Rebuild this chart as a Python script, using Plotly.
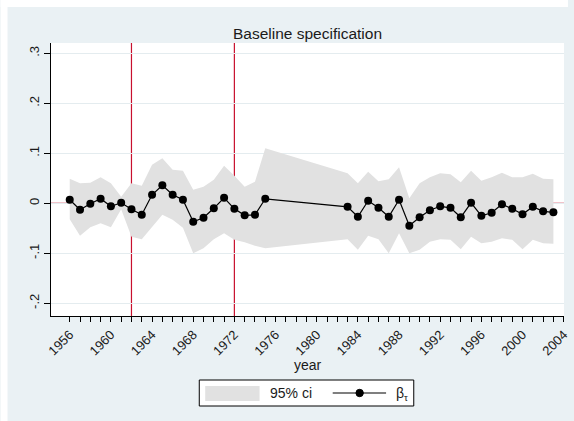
import plotly.graph_objects as go

# Estimated coefficients by year (no estimates for 1976-1982)
year = list(range(1956, 1976)) + list(range(1983, 2004))

beta = [0.007, -0.013, -0.001, 0.009, -0.006, 0.001, -0.012, -0.023, 0.017, 0.036,
        0.017, 0.007, -0.037, -0.029, -0.010, 0.011, -0.011, -0.024, -0.023, 0.009,
        -0.007, -0.027, 0.005, -0.009, -0.027, 0.007, -0.045, -0.028, -0.014, -0.006,
        -0.009, -0.028, 0.001, -0.025, -0.019, -0.002, -0.011, -0.022, -0.007, -0.016,
        -0.018]

ci_hi = [0.049, 0.040, 0.041, 0.052, 0.040, 0.013, 0.040, 0.035, 0.077, 0.090,
         0.067, 0.065, 0.027, 0.033, 0.047, 0.075, 0.055, 0.033, 0.043, 0.110,
         0.060, 0.040, 0.063, 0.044, 0.048, 0.072, 0.010, 0.040, 0.052, 0.060,
         0.058, 0.042, 0.065, 0.045, 0.052, 0.061, 0.052, 0.052, 0.059, 0.049,
         0.048]

ci_lo = [-0.032, -0.065, -0.048, -0.040, -0.048, -0.012, -0.067, -0.072, -0.047, -0.023,
         -0.033, -0.049, -0.100, -0.090, -0.072, -0.060, -0.073, -0.078, -0.085, -0.090,
         -0.072, -0.093, -0.065, -0.072, -0.100, -0.060, -0.100, -0.093, -0.077, -0.072,
         -0.073, -0.092, -0.067, -0.080, -0.077, -0.070, -0.073, -0.092, -0.073, -0.080,
         -0.081]

break_years = [1962, 1972]

x_tick_vals = list(range(1956, 2005))
x_tick_text = [str(y) if (y - 1956) % 4 == 0 else "" for y in x_tick_vals]
y_tick_vals = [-0.2, -0.1, 0, 0.1, 0.2, 0.3]
y_tick_text = ["-.2", "-.1", "0", ".1", ".2", ".3"]

FONT = "Liberation Sans, Arial, sans-serif"
TEXT = "#1a1a1a"
RED = "#c8102e"
BLUISH = "#eaf1f4"
GRID = "#e4ecef"
BAND = "#e1e1e1"

W, H = 574, 421
ML, MR, MT, MB = 51, 4, 43, 105
PW, PH = W - ML - MR, H - MT - MB


def px_x(px):
    """pixel column -> paper x"""
    return (px - ML) / PW


def px_y(py):
    """pixel row -> paper y"""
    return (H - MB - py) / PH


fig = go.Figure()

# confidence band as a closed polygon
fig.add_trace(go.Scatter(
    x=year + year[::-1],
    y=ci_hi + ci_lo[::-1],
    mode="lines",
    fill="toself",
    fillcolor=BAND,
    line=dict(width=0, color=BAND),
    name="95% ci",
    hoverinfo="skip",
    showlegend=False,
))

fig.add_trace(go.Scatter(
    x=year, y=beta,
    mode="lines+markers",
    line=dict(color="black", width=1.2),
    marker=dict(color="black", size=8),
    name="β<sub>τ</sub>",
    showlegend=False,
))

for yr in break_years:
    fig.add_vline(x=yr, line=dict(color=RED, width=1.2), layer="below")
fig.add_hline(y=0, line=dict(color=RED, width=1.2), layer="below")

# thin white outer margin along the top and left edges
for x0, x1, y0, y1 in [(0, 7, 0, H), (0, W, 0, 7)]:
    fig.add_shape(type="rect", xref="paper", yref="paper",
                  x0=px_x(x0), x1=px_x(x1), y0=px_y(y1), y1=px_y(y0),
                  fillcolor="white", line=dict(width=0), layer="above")

# legend box
legend_shapes = [
    dict(type="rect", x0=px_x(201), x1=px_x(418), y0=px_y(406), y1=px_y(380),
         fillcolor="white", line=dict(color="black", width=1)),
    dict(type="rect", x0=px_x(207), x1=px_x(262), y0=px_y(401), y1=px_y(386),
         fillcolor=BAND, line=dict(width=0)),
    dict(type="line", x0=px_x(336), x1=px_x(390), y0=px_y(393), y1=px_y(393),
         line=dict(color="black", width=1.2)),
    dict(type="circle", x0=px_x(359.5), x1=px_x(367), y0=px_y(396.7), y1=px_y(389.3),
         fillcolor="black", line=dict(color="black", width=1)),
]
for s in legend_shapes:
    fig.add_shape(xref="paper", yref="paper", layer="above", **s)

fig.add_annotation(text="95% ci", xref="paper", yref="paper",
                   x=px_x(270.5), y=px_y(393.5), xanchor="left", yanchor="middle",
                   showarrow=False, font=dict(size=14, color=TEXT, family=FONT))
fig.add_annotation(text="β<sub>τ</sub>", xref="paper", yref="paper",
                   x=px_x(398), y=px_y(394), xanchor="left", yanchor="middle",
                   showarrow=False, font=dict(size=14, color=TEXT, family=FONT))

fig.add_annotation(text="year", xref="paper", yref="paper",
                   x=0.5, y=px_y(365), yanchor="middle", showarrow=False,
                   font=dict(size=14, color=TEXT, family=FONT))

fig.update_layout(
    width=W, height=H,
    margin=dict(l=ML, r=MR, t=MT, b=MB),
    paper_bgcolor=BLUISH,
    plot_bgcolor="white",
    font=dict(family=FONT, color=TEXT),
    title=dict(text="Baseline specification", x=0.5, xref="paper",
               y=1 - 34 / H, yref="container", yanchor="middle",
               font=dict(size=15.5, color=TEXT)),
    showlegend=False,
    xaxis=dict(range=[1954.18, 2004.03], tickvals=x_tick_vals, ticktext=x_tick_text,
               tickangle=-45, ticks="outside", ticklen=5, tickcolor="black",
               ticklabeloverflow="allow",
               showline=True, linecolor="black", linewidth=1,
               showgrid=False, zeroline=False, tickfont=dict(size=13)),
    yaxis=dict(range=[-0.2254, 0.3206], tickvals=y_tick_vals, ticktext=y_tick_text,
               tickangle=-90, ticks="outside", ticklen=6, tickcolor="black",
               showline=True, linecolor="black", linewidth=1,
               showgrid=True, gridcolor=GRID, gridwidth=1,
               zeroline=False, tickfont=dict(size=13)),
)

fig.write_html("out.html")
